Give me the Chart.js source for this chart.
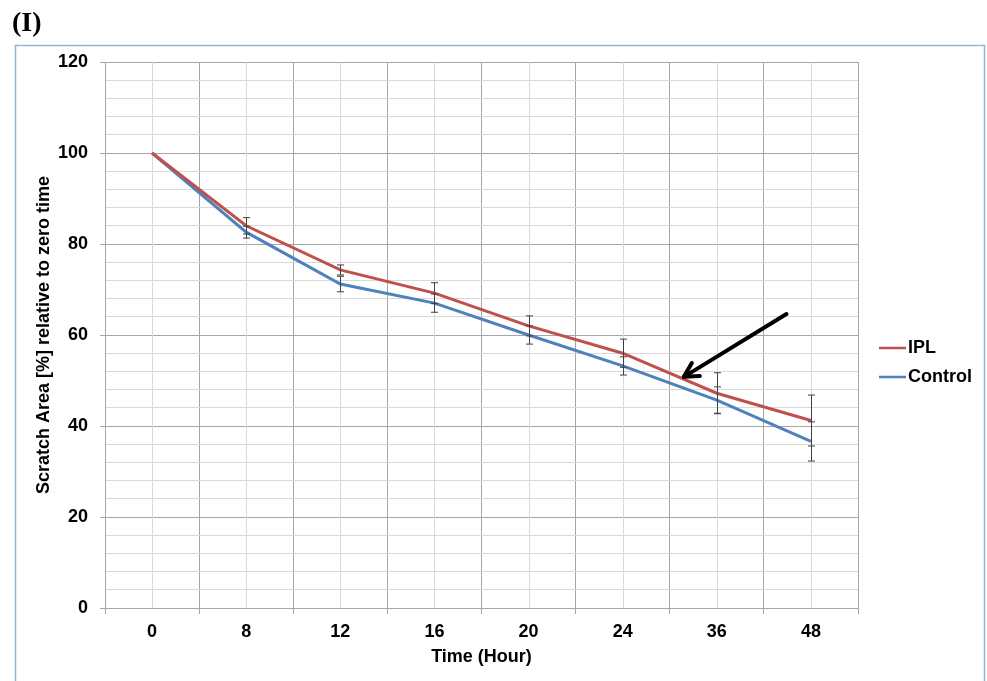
<!DOCTYPE html>
<html>
<head>
<meta charset="utf-8">
<script src="https://cdn.jsdelivr.net/npm/chart.js@4.4.0/dist/chart.umd.min.js"></script>
<style>
  body { margin: 0; background: #fff; }
  #wrap { position: relative; width: 987px; height: 681px; }
  #panel { position: absolute; left: 12px; top: 6px; font: bold 28px "Liberation Serif", "Times New Roman", serif; }
</style>
</head>
<body>
<div id="wrap">
  <canvas id="chart" width="987" height="681"></canvas>
  <div id="panel">(I)</div>
</div>
<script>
// values
const hours = ['0', '8', '12', '16', '20', '24', '36', '48'];
const iplMean = [100, 84.0, 74.3, 69.2, 62.0, 56.0, 47.2, 41.2];
const iplErr = [0, 1.8, 1.1, 2.3, 2.2, 3.1, 4.5, 5.6];
const controlMean = [100, 82.6, 71.2, 67.0, 60.0, 53.2, 45.7, 36.6];
const controlErr = [0, 1.3, 1.7, 2.0, 2.0, 2.0, 2.9, 4.3];

// arrow annotation, in data coordinates (category index, value)
const arrowFrom = [6.74, 64.6];
const arrowTo = [5.65, 50.8];

const font = 'Liberation Sans, Arial, sans-serif';

// frame, centre gridlines, error bars, arrow and legend
const extras = {
  id: 'extras',
  beforeDatasetsDraw(chart) {
    const { ctx, chartArea, scales: { x } } = chart;
    ctx.save();
    ctx.strokeStyle = '#d9d9d9';
    ctx.lineWidth = 1;
    hours.forEach((h, i) => {
      const px = Math.round(x.getPixelForValue(i)) + 0.5;
      ctx.beginPath();
      ctx.moveTo(px, chartArea.top);
      ctx.lineTo(px, chartArea.bottom);
      ctx.stroke();
    });
    ctx.restore();
  },
  afterDatasetsDraw(chart) {
    const { ctx, scales: { x, y } } = chart;
    ctx.save();
    ctx.strokeStyle = '#404040';
    ctx.lineWidth = 1;
    const bars = [[iplMean, iplErr], [controlMean, controlErr]];
    bars.forEach(([mean, err]) => {
      mean.forEach((m, i) => {
        if (!err[i]) return;
        const px = Math.round(x.getPixelForValue(i)) + 0.5;
        const top = y.getPixelForValue(m + err[i]);
        const bot = y.getPixelForValue(m - err[i]);
        ctx.beginPath();
        ctx.moveTo(px, top); ctx.lineTo(px, bot);
        ctx.moveTo(px - 3.5, top); ctx.lineTo(px + 3.5, top);
        ctx.moveTo(px - 3.5, bot); ctx.lineTo(px + 3.5, bot);
        ctx.stroke();
      });
    });

    // arrow
    const x1 = x.getPixelForValue(arrowFrom[0]), y1 = y.getPixelForValue(arrowFrom[1]);
    const x2 = x.getPixelForValue(arrowTo[0]), y2 = y.getPixelForValue(arrowTo[1]);
    const ang = Math.atan2(y2 - y1, x2 - x1);
    ctx.strokeStyle = '#000';
    ctx.lineWidth = 4;
    ctx.lineCap = 'round';
    ctx.lineJoin = 'round';
    ctx.beginPath();
    ctx.moveTo(x1, y1); ctx.lineTo(x2, y2);
    ctx.stroke();
    ctx.beginPath();
    ctx.moveTo(x2 + 16 * Math.cos(ang + Math.PI - 0.5), y2 + 16 * Math.sin(ang + Math.PI - 0.5));
    ctx.lineTo(x2, y2);
    ctx.lineTo(x2 + 16 * Math.cos(ang + Math.PI + 0.5), y2 + 16 * Math.sin(ang + Math.PI + 0.5));
    ctx.stroke();
    ctx.restore();
  },
  afterDraw(chart) {
    const { ctx } = chart;
    ctx.save();
    // outer blue frame
    ctx.strokeStyle = '#95b3d7';
    ctx.lineWidth = 1.5;
    ctx.strokeRect(15.5, 45.5, 969, 700);

    // legend
    ctx.font = 'bold 18px ' + font;
    ctx.textBaseline = 'middle';
    ctx.fillStyle = '#000';
    chart.data.datasets.forEach((ds, i) => {
      const ly = 348 + i * 29;
      ctx.strokeStyle = ds.borderColor;
      ctx.lineWidth = 2.5;
      ctx.beginPath();
      ctx.moveTo(879, ly); ctx.lineTo(906, ly);
      ctx.stroke();
      ctx.fillText(ds.label, 908, ly);
    });
    ctx.restore();
  }
};

new Chart(document.getElementById('chart'), {
  type: 'line',
  data: {
    labels: hours,
    datasets: [
      { label: 'IPL', data: iplMean, borderColor: '#c0504d', borderWidth: 3, pointRadius: 0, tension: 0 },
      { label: 'Control', data: controlMean, borderColor: '#4f81bd', borderWidth: 3, pointRadius: 0, tension: 0 }
    ]
  },
  options: {
    responsive: false,
    animation: false,
    layout: { padding: { top: 62, right: 129, left: 0, bottom: 0 } },
    plugins: { legend: { display: false }, tooltip: { enabled: false } },
    scales: {
      x: {
        offset: true,
        afterFit(scale) { scale.height = 73; },
        grid: { offset: true, color: '#a6a6a6', tickLength: 6, tickColor: '#a6a6a6' },
        border: { color: '#a6a6a6' },
        ticks: { color: '#000', padding: 7, font: { family: font, size: 18, weight: 'bold' } },
        title: {
          display: true, text: 'Time (Hour)', color: '#000',
          padding: { top: 0, bottom: 13 },
          font: { family: font, size: 18, weight: 'bold' }
        }
      },
      y: {
        min: 0,
        max: 120,
        afterFit(scale) { scale.width = 105; },
        grid: {
          tickLength: 5,
          color: (c) => (c.tick && c.tick.value % 20 === 0) ? '#a6a6a6' : '#d9d9d9',
          tickColor: (c) => (c.tick && c.tick.value % 20 === 0) ? '#a6a6a6' : 'rgba(0,0,0,0)'
        },
        border: { color: '#a6a6a6' },
        ticks: {
          stepSize: 4,
          autoSkip: false,
          padding: 12,
          color: '#000',
          font: { family: font, size: 18, weight: 'bold' },
          callback: (v) => (v % 20 === 0 ? v : '')
        },
        title: {
          display: true, text: 'Scratch Area [%] relative to zero time', color: '#000',
          padding: { top: 33, bottom: 0 },
          font: { family: font, size: 18, weight: 'bold' }
        }
      }
    }
  },
  plugins: [extras]
});
</script>
</body>
</html>
